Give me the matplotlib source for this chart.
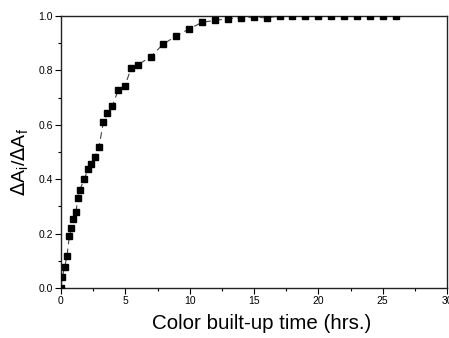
import matplotlib
matplotlib.use("Agg")
import matplotlib.pyplot as plt
from matplotlib.ticker import MultipleLocator, FormatStrFormatter

time_hrs = [0, 0.1, 0.29, 0.47, 0.65, 0.8, 0.96, 1.17, 1.3, 1.45, 1.81, 2.1, 2.3, 2.64,
            2.95, 3.3, 3.6, 4.0, 4.45, 4.97, 5.46, 5.96, 6.97, 7.95, 8.94, 9.97, 10.98,
            11.99, 13.0, 13.96, 15.0, 15.98, 17.0, 17.97, 18.97, 20.0, 21.0, 22.0, 23.0,
            24.0, 25.0, 26.0]
ratio = [0.0, 0.04, 0.078, 0.119, 0.19, 0.22, 0.254, 0.28, 0.33, 0.36, 0.40, 0.437, 0.455,
         0.483, 0.52, 0.61, 0.645, 0.67, 0.728, 0.743, 0.81, 0.82, 0.85, 0.897, 0.926,
         0.953, 0.977, 0.984, 0.99, 0.993, 0.996, 0.993, 1.0, 1.0, 1.0, 1.0, 1.0, 1.0,
         1.0, 1.0, 1.0, 1.0]

plt.rcParams['font.family'] = ['Liberation Sans', 'DejaVu Sans']

fig = plt.figure(figsize=(4.49, 3.38), dpi=100)
ax = fig.add_axes([61/449, 1-288/338, (447-61)/449, (288-16)/338])

ax.plot(time_hrs, ratio, linestyle=(0, (6, 4)), color='#444444', linewidth=0.8, zorder=2)
ax.plot(time_hrs, ratio, linestyle='none', marker='s', markersize=5, color='black', zorder=3)

ax.set_xlim(0, 30)
ax.set_ylim(0, 1.0)
ax.xaxis.set_major_locator(MultipleLocator(5))
ax.xaxis.set_minor_locator(MultipleLocator(2.5))
ax.yaxis.set_major_locator(MultipleLocator(0.2))
ax.yaxis.set_minor_locator(MultipleLocator(0.1))
ax.yaxis.set_major_formatter(FormatStrFormatter('%.1f'))
ax.tick_params(which='major', direction='out', length=4, width=0.8, labelsize=7.5, pad=2)
ax.tick_params(which='minor', direction='out', length=2.5, width=0.8)
ax.tick_params(top=False, right=False)
for s in ax.spines.values():
    s.set_linewidth(1.0)
    s.set_color('#222222')

ax.set_xlabel('Color built-up time (hrs.)', fontsize=14.8)
ax.xaxis.set_label_coords(0.521, -0.095)
ax.set_ylabel(r'$\Delta$A$_\mathregular{i}$/$\Delta$A$_\mathregular{f}$', fontsize=14)
ax.yaxis.set_label_coords(-0.078, 0.463)

fig.savefig('out.png', dpi=100)
